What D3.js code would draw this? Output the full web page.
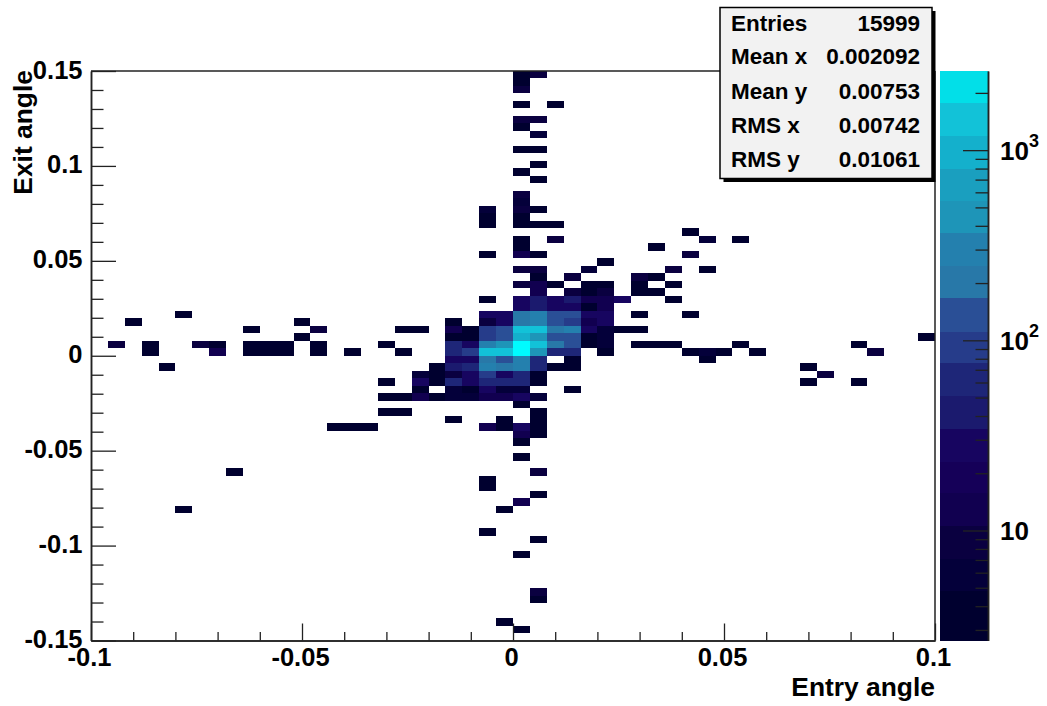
<!DOCTYPE html>
<html>
<head>
<meta charset="utf-8">
<script src="https://cdn.jsdelivr.net/npm/d3@7"></script>
<style>
	html, body { margin: 0; padding: 0; background: #fff; }
	svg { display: block; }
	text { font-family: "Liberation Sans", Arial, sans-serif; font-weight: bold; fill: #000; }
	.axis path { stroke: #222; stroke-width: 1.5; fill: none; }
	.axis line { stroke: #222; stroke-width: 1.3; }
	.axis text { font-size: 25.5px; font-family: "Liberation Sans", Arial, sans-serif; }
</style>
</head>
<body>
<div class="main"></div>
<script>
//Canvas config
var width = 1047, height = 706;
var plot = {left: 91, right: 935, top: 71, bottom: 640.5};
var bar = {left: 940, right: 988};

//histogram binning
var entryRange = [-0.1, 0.1], exitRange = [-0.15, 0.15];
var entryBinCount = 50, exitBinCount = 76;

//filled bins, one line per exit row (row 0 is the top one)
var exitRows = [0, 1, 2, 4, 6, 7, 8, 10, 12, 13, 14, 16, 17, 18, 19, 20, 21, 22, 23, 24, 25, 26, 27, 28, 29,
	30, 31, 32, 33, 34, 35, 36, 37, 38, 39, 40, 41, 42, 43, 44, 45, 46, 47, 48, 49,
	51, 53, 54, 55, 56, 57, 58, 61, 62, 64, 69, 70, 73, 74];
var entryBins = [
	[25, 26], [25], [25], [25, 27], [25, 26], [25], [26], [25, 26], [26], [25], [26], [25], [25],
	[23, 25, 26], [23, 25], [23, 25, 26, 27], [35], [25, 27, 36, 38], [25, 33], [23, 25, 26, 35], [30],
	[25, 26, 29, 34, 36],
	[26, 28, 32, 33],
	[25, 26, 27, 29, 30, 32, 34],
	[26, 28, 29, 30, 32, 33],
	[23, 25, 26, 27, 28, 29, 30, 31, 34],
	[25, 26, 27, 28, 29, 30],
	[5, 23, 24, 25, 26, 27, 28, 29, 30, 32, 35],
	[2, 12, 21, 23, 24, 25, 26, 27, 28, 29, 30],
	[9, 13, 18, 19, 21, 22, 23, 24, 25, 26, 27, 28, 29, 30, 31, 32],
	[12, 21, 22, 23, 24, 25, 26, 27, 28, 29, 30, 49],
	[1, 3, 6, 7, 9, 10, 11, 13, 17, 21, 22, 23, 24, 25, 26, 27, 28, 29, 30, 32, 33, 34, 38, 45],
	[3, 7, 9, 10, 11, 13, 15, 18, 21, 22, 23, 24, 25, 26, 27, 28, 30, 35, 36, 37, 39, 46],
	[21, 22, 23, 24, 25, 26, 28, 36],
	[4, 20, 21, 22, 23, 24, 25, 26, 27, 28, 42],
	[19, 20, 21, 22, 23, 24, 25, 26, 43],
	[17, 19, 20, 21, 22, 23, 24, 25, 26, 42, 45],
	[19, 21, 22, 23, 24, 25, 28],
	[17, 18, 19, 20, 21, 22, 23, 24, 25, 26],
	[25],
	[17, 18, 26],
	[21, 24, 26],
	[14, 15, 16, 23, 24, 25, 26],
	[25, 26],
	[25],
	[25], [8, 26], [23], [23], [26], [25], [5, 24], [23], [26], [25], [26], [26], [24], [25]
];
var binCounts = [
	[3, 8], [3], [8], [3, 3], [8, 8], [3], [5], [3, 3], [3], [3], [3], [8], [5],
	[5, 8, 3], [3, 3], [3, 3, 3, 3], [3], [3, 8, 5, 3], [3, 3], [3, 12, 3, 8], [3],
	[8, 8, 5, 8, 3],
	[3, 8, 8, 3],
	[8, 12, 3, 3, 3, 3, 3],
	[12, 8, 3, 8, 3, 3],
	[3, 25, 40, 25, 40, 12, 12, 25, 3],
	[25, 40, 25, 25, 3, 12],
	[3, 25, 25, 200, 300, 130, 130, 25, 25, 3, 3],
	[3, 3, 3, 8, 25, 200, 300, 130, 90, 12, 25],
	[3, 8, 3, 3, 12, 3, 90, 130, 1400, 1400, 200, 300, 25, 5, 3, 3],
	[3, 3, 3, 90, 130, 950, 500, 130, 130, 3, 5, 3],
	[8, 3, 8, 3, 3, 3, 3, 3, 3, 60, 25, 300, 500, 2700, 1400, 200, 130, 3, 5, 3, 3, 3, 3, 3],
	[3, 12, 3, 3, 3, 3, 3, 3, 60, 90, 1400, 1400, 2700, 500, 60, 60, 3, 3, 5, 3, 3, 8],
	[25, 25, 200, 130, 300, 60, 3, 3],
	[3, 3, 40, 60, 300, 200, 300, 60, 3, 3, 3],
	[5, 3, 8, 25, 90, 25, 60, 3, 8],
	[3, 25, 3, 60, 25, 60, 60, 60, 3, 3, 3],
	[3, 5, 3, 25, 5, 5, 3],
	[3, 3, 12, 3, 5, 5, 12, 12, 25, 5],
	[3],
	[3, 3, 3],
	[3, 3, 3],
	[3, 3, 3, 12, 3, 25, 3],
	[12, 3],
	[3],
	[3], [3, 8], [3], [3], [3], [12], [3, 3], [3], [3], [3], [8], [3], [3], [3]
];

//palette levels
var barDomain = [2.64, 2607];
var levels = [4.8, 7.1, 10.5, 15.7, 23, 34, 51, 76, 111, 166, 245, 366, 539, 794, 1186, 1766, 2607];
var palette = ["#00002f", "#04003a", "#0a0040", "#110050", "#150058", "#170560", "#1b1a6e", "#1e2678", "#263c8a",
	"#2a4f96", "#2878a8", "#2480ae", "#1e95b8", "#1a9fbf", "#14b0cc", "#12c2d8", "#02dfe8", "#00fbff"];

//tick values
var entryMajor = [-0.1, -0.05, 0, 0.05, 0.1];
var entryMinor = [-0.09, -0.08, -0.07, -0.06, -0.04, -0.03, -0.02, -0.01, 0.01, 0.02, 0.03, 0.04, 0.06, 0.07, 0.08, 0.09];
var exitMajor = [-0.15, -0.1, -0.05, 0, 0.05, 0.1, 0.15];
var exitMinor = [-0.14, -0.13, -0.12, -0.11, -0.09, -0.08, -0.07, -0.06, -0.04, -0.03, -0.02, -0.01,
	0.01, 0.02, 0.03, 0.04, 0.06, 0.07, 0.08, 0.09, 0.11, 0.12, 0.13, 0.14];
var barMajor = [10, 100, 1000];
var barMinor = [3, 4, 5, 6, 7, 8, 9, 20, 30, 40, 50, 60, 70, 80, 90, 200, 300, 400, 500, 600, 700, 800, 900, 2000];
var barExponents = ["", "2", "3"];

//stats box
var statNames = ["Entries", "Mean x", "Mean y", "RMS x", "RMS y"];
var statValues = ["15999", "0.002092", "0.00753", "0.00742", "0.01061"];

var svg = d3.select(".main")
	.append("svg")
	.attr("width", width)
	.attr("height", height);

var xScale = d3.scaleLinear().domain(entryRange).range([plot.left, plot.right]);
var yScale = d3.scaleLinear().domain(exitRange).range([plot.bottom, plot.top]);
var xBin = d3.scaleLinear().domain([0, entryBinCount]).range([plot.left, plot.right]);
var yBin = d3.scaleLinear().domain([0, exitBinCount]).range([plot.top, plot.bottom]);
var zScale = d3.scaleLog().domain(barDomain).range([plot.bottom, plot.top]);
var colour = d3.scaleThreshold().domain(levels).range(palette);

var cells = [];
exitRows.forEach(function(row, i) {
	entryBins[i].forEach(function(bin, j) {
		cells.push({row: row, bin: bin, count: binCounts[i][j]});
	});
});

//histogram cells
svg.append("g")
	.selectAll("rect")
	.data(cells)
	.enter()
	.append("rect")
	.attr("x", function(d) { return xBin(d.bin); })
	.attr("y", function(d) { return yBin(d.row); })
	.attr("width", function(d) { return xBin(d.bin + 1) - xBin(d.bin); })
	.attr("height", function(d) { return yBin(d.row + 1) - yBin(d.row); })
	.style("fill", function(d) { return colour(d.count); })
	.attr("shape-rendering", "crispEdges");

//frame top and right
svg.append("line")
	.attr("x1", plot.left).attr("x2", plot.right)
	.attr("y1", plot.top).attr("y2", plot.top)
	.style("stroke", "#222").style("stroke-width", 1.5);
svg.append("line")
	.attr("x1", plot.right).attr("x2", plot.right)
	.attr("y1", plot.top).attr("y2", plot.bottom)
	.style("stroke", "#222").style("stroke-width", 1.5);

//x axis, ticks point inward
var xAxisGroup = svg.append("g")
	.attr("class", "axis")
	.attr("transform", "translate(0," + plot.bottom + ")");
xAxisGroup.append("g")
	.call(d3.axisBottom(xScale).tickValues(entryMinor).tickSize(-8.5).tickSizeOuter(0).tickFormat(""));
xAxisGroup.append("g")
	.call(d3.axisBottom(xScale).tickValues(entryMajor).tickSize(-17).tickSizeOuter(0).tickFormat(d3.format("~g")))
	.selectAll("text")
	.attr("dx", -2)
	.attr("y", 25.5)
	.attr("dy", 0)
	.text(function(d) { return String(d); });

//y axis
var yAxisGroup = svg.append("g")
	.attr("class", "axis")
	.attr("transform", "translate(" + plot.left + ",0)");
yAxisGroup.append("g")
	.call(d3.axisLeft(yScale).tickValues(exitMinor).tickSize(-12.5).tickSizeOuter(0).tickFormat(""));
yAxisGroup.append("g")
	.call(d3.axisLeft(yScale).tickValues(exitMajor).tickSize(-25).tickSizeOuter(0))
	.selectAll("text")
	.attr("x", -8.5)
	.attr("dy", 7)
	.text(function(d) { return String(d); });

//axis titles
svg.append("text")
	.text("Entry angle")
	.attr("text-anchor", "end")
	.attr("transform", "translate(" + plot.right + ",696)")
	.style("font-size", "26.4px");
svg.append("text")
	.text("Exit angle")
	.attr("text-anchor", "end")
	.attr("transform", "translate(32,70) rotate(-90)")
	.style("font-size", "26.4px");

//colour bar
var bands = [barDomain[0]].concat(levels);
svg.append("g")
	.selectAll("rect")
	.data(d3.pairs(bands))
	.enter()
	.append("rect")
	.attr("x", bar.left)
	.attr("width", bar.right - bar.left)
	.attr("y", function(d) { return zScale(d[1]); })
	.attr("height", function(d) { return zScale(d[0]) - zScale(d[1]); })
	.style("fill", function(d, i) { return palette[i]; })
	.attr("shape-rendering", "crispEdges");

var barAxisGroup = svg.append("g")
	.attr("class", "axis")
	.attr("transform", "translate(" + bar.right + ",0)");
barAxisGroup.append("g")
	.call(d3.axisLeft(zScale).tickValues(barMinor).tickSize(12.5).tickSizeOuter(0).tickFormat(""));
barAxisGroup.append("g")
	.call(d3.axisLeft(zScale).tickValues(barMajor).tickSize(25).tickSizeOuter(0).tickFormat(""));

var barLabels = svg.append("g")
	.selectAll("text")
	.data(barMajor)
	.enter()
	.append("text")
	.attr("x", 1000)
	.attr("y", function(d) { return zScale(d) + 9.5; })
	.style("font-size", "26px");
barLabels.append("tspan").text("10");
barLabels.append("tspan")
	.text(function(d, i) { return barExponents[i]; })
	.attr("dy", -13)
	.style("font-size", "18px");

//stats box
var statBox = {x: 720, y: 7.5, w: 212, h: 171, shadow: 3.5};
svg.append("rect")
	.attr("x", statBox.x + statBox.shadow).attr("y", statBox.y + statBox.shadow)
	.attr("width", statBox.w).attr("height", statBox.h)
	.style("fill", "#000");
svg.append("rect")
	.attr("x", statBox.x).attr("y", statBox.y)
	.attr("width", statBox.w).attr("height", statBox.h)
	.style("fill", "#f2f2f2")
	.style("stroke", "#000")
	.style("stroke-width", 1.5);

var statBaselines = [31, 64, 99, 133, 167];
statNames.forEach(function(name, i) {
	svg.append("text")
		.text(name)
		.attr("x", 731)
		.attr("y", statBaselines[i])
		.style("font-size", "22.5px");
	svg.append("text")
		.text(statValues[i])
		.attr("x", 920)
		.attr("y", statBaselines[i])
		.attr("text-anchor", "end")
		.style("font-size", "22.5px");
});
</script>
</body>
</html>
